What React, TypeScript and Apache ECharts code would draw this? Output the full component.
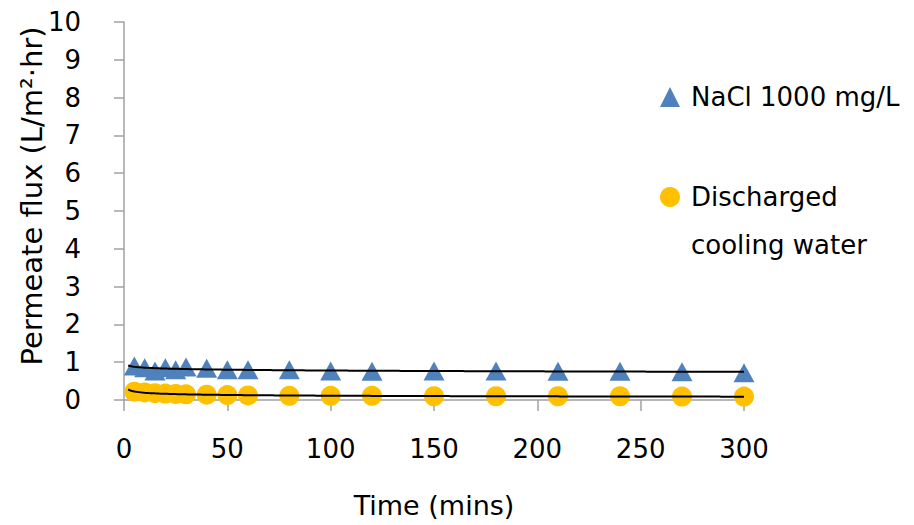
import React, { useEffect, useRef } from "react";
import * as echarts from "echarts";

const times = [5, 10, 15, 20, 25, 30, 40, 50, 60, 80, 100, 120, 150, 180, 210, 240, 270, 300];
const naclFlux = [0.9, 0.85, 0.77, 0.85, 0.8, 0.87, 0.84, 0.8, 0.8, 0.8, 0.77, 0.76, 0.77, 0.77, 0.76, 0.76, 0.75, 0.72];
const coolingFlux = [0.22, 0.2, 0.18, 0.17, 0.16, 0.15, 0.14, 0.13, 0.12, 0.11, 0.11, 0.11, 0.1, 0.1, 0.1, 0.1, 0.09, 0.09];
const seriesNames = ["NaCl 1000 mg/L", "Discharged cooling water"];
const legendLines = ["Discharged", "cooling water"];
const yTitle = "Permeate flux (L/m²·hr)";
const xTitle = "Time (mins)";

// power-law least-squares trendline (like Excel's "Power" trendline)
function powerFit(xs: number[], ys: number[]) {
  const n = xs.length;
  let sx = 0, sy = 0, sxx = 0, sxy = 0;
  for (let i = 0; i < n; i++) {
    const lx = Math.log(xs[i]);
    const ly = Math.log(ys[i]);
    sx += lx; sy += ly; sxx += lx * lx; sxy += lx * ly;
  }
  const b = (n * sxy - sx * sy) / (n * sxx - sx * sx);
  const a = Math.exp((sy - b * sx) / n);
  const pts: number[][] = [];
  for (let t = 2; t <= xs[n - 1]; t += 1) pts.push([t, a * Math.pow(t, b)]);
  return pts;
}

const FONT = "DejaVu Sans";

export default function App() {
  const ref = useRef<HTMLDivElement>(null);
  useEffect(() => {
    if (!ref.current) return;
    const chart = echarts.init(ref.current, undefined, { renderer: "svg" });
    const naclPts = times.map((t, i) => [t, naclFlux[i]]);
    const coolPts = times.map((t, i) => [t, coolingFlux[i]]);
    const legendText = { fontFamily: FONT, fontSize: 26, color: "#000", lineHeight: 30, padding: [0, 0, 0, 6] };
    chart.setOption({
      animation: false,
      backgroundColor: "#ffffff",
      textStyle: { fontFamily: FONT, color: "#000" },
      grid: { left: 124, right: 170, top: 22, bottom: 125, containLabel: false },
      xAxis: {
        type: "value",
        min: 0,
        max: 300,
        interval: 50,
        name: xTitle,
        nameLocation: "middle",
        nameGap: 92,
        nameTextStyle: { fontFamily: FONT, fontSize: 27, color: "#000" },
        axisLine: { show: true, onZero: false, lineStyle: { color: "#A0A0A0", width: 1.5 } },
        axisTick: { show: true, length: 11, lineStyle: { color: "#A0A0A0", width: 1.5 } },
        axisLabel: { margin: 36, fontFamily: FONT, fontSize: 26, color: "#000" },
        splitLine: { show: false },
      },
      yAxis: {
        type: "value",
        min: 0,
        max: 10,
        interval: 1,
        axisLine: { show: true, lineStyle: { color: "#A0A0A0", width: 1.5 } },
        axisTick: { show: true, length: 10, lineStyle: { color: "#A0A0A0", width: 1.5 } },
        axisLabel: { margin: 43, fontFamily: FONT, fontSize: 26, color: "#000" },
        splitLine: { show: false },
      },
      legend: [
        {
          data: [seriesNames[0]],
          orient: "vertical",
          left: 660,
          top: 82,
          padding: 0,
          itemWidth: 20,
          itemHeight: 20,
          textStyle: legendText,
        },
        {
          data: [seriesNames[1]],
          orient: "vertical",
          left: 660,
          top: 182,
          padding: 0,
          itemWidth: 20,
          itemHeight: 20,
          formatter: () => legendLines[0],
          textStyle: legendText,
        },
      ],
      graphic: [
        {
          type: "text",
          x: 32,
          y: 196,
          rotation: Math.PI / 2,
          style: {
            text: yTitle,
            fontFamily: FONT,
            fontSize: 29,
            fill: "#000",
            align: "center",
            verticalAlign: "middle",
          },
        },
        {
          type: "text",
          x: 691,
          y: 245,
          style: {
            text: legendLines[1],
            fontFamily: FONT,
            fontSize: 26,
            fill: "#000",
            align: "left",
            verticalAlign: "middle",
          },
        },
      ],
      series: [
        {
          name: seriesNames[0],
          type: "scatter",
          symbol: "triangle",
          symbolSize: [21, 19],
          itemStyle: { color: "#4F81BD", opacity: 1 },
          data: naclPts,
          z: 2,
        },
        {
          name: seriesNames[1],
          type: "scatter",
          symbol: "circle",
          symbolSize: 20,
          itemStyle: { color: "#FFC000", opacity: 1 },
          data: coolPts,
          z: 2,
        },
        {
          name: "nacl-trend",
          type: "line",
          data: powerFit(times, naclFlux),
          showSymbol: false,
          symbol: "none",
          lineStyle: { color: "#000", width: 2 },
          silent: true,
          z: 3,
        },
        {
          name: "cool-trend",
          type: "line",
          data: powerFit(times, coolingFlux),
          showSymbol: false,
          symbol: "none",
          lineStyle: { color: "#000", width: 2 },
          silent: true,
          z: 3,
        },
      ],
    });
    return () => chart.dispose();
  }, []);
  return (
    <div
      ref={ref}
      style={{ position: "fixed", left: 0, top: 0, width: 914, height: 525, background: "#fff" }}
    />
  );
}
